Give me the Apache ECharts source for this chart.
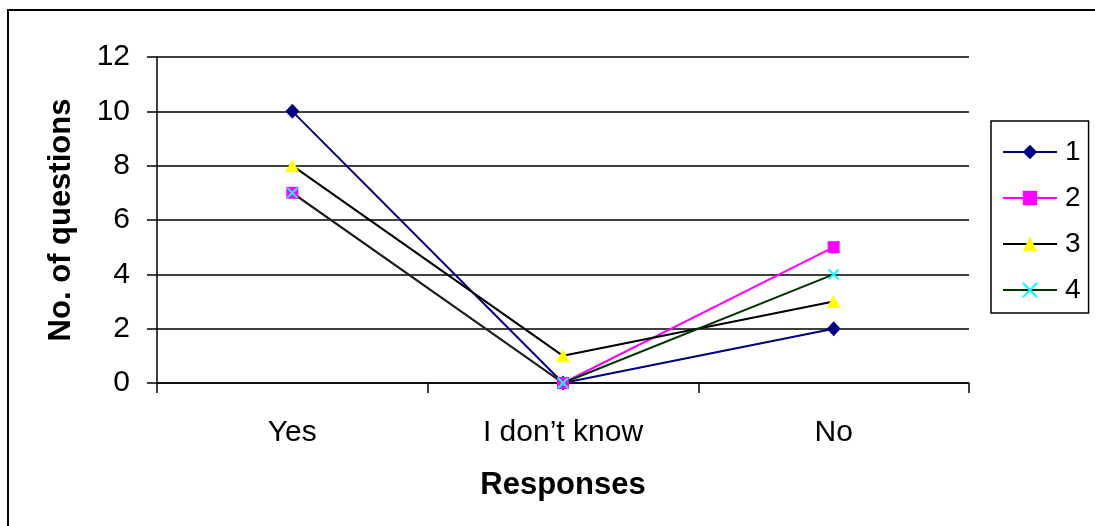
<!DOCTYPE html>
<html>
<head>
<meta charset="utf-8">
<script src="https://cdn.jsdelivr.net/npm/echarts@6/dist/echarts.min.js"></script>
<style>
html, body { margin: 0; padding: 0; background: #fff; }
#chart { width: 1095px; height: 526px; }
</style>
</head>
<body>
<div id="chart"></div>
<script>
// Survey responses per question group
const categories = ['Yes', 'I don\u2019t know', 'No'];
const series1 = [10, 0, 2];
const series2 = [7, 0, 5];
const series3 = [8, 1, 3];
const series4 = [7, 0, 4];
const seriesNames = ['1', '2', '3', '4'];
const yTicks = { min: 0, max: 12, interval: 2 };

const FONT = '"Liberation Sans", Arial, sans-serif';
const crossPath = 'path://M0,0L10,10M10,0L0,10';

const chart = echarts.init(document.getElementById('chart'), null, { renderer: 'canvas' });

function lineSeries(name, data, lineColor, markColor, symbol, size, extra) {
  return Object.assign({
    name: name,
    type: 'line',
    data: data,
    symbol: symbol,
    symbolSize: size,
    showAllSymbol: true,
    lineStyle: { color: lineColor, width: 2 },
    itemStyle: { color: markColor, borderWidth: 0 },
    emphasis: { disabled: true },
    animation: false
  }, extra || {});
}

chart.setOption({
  backgroundColor: '#fff',
  textStyle: { fontFamily: FONT },
  graphic: [{
    type: 'rect',
    shape: { x: 8, y: 10, width: 1200, height: 600 },
    style: { fill: 'none', stroke: '#000', lineWidth: 2 },
    silent: true,
    z: 0
  }],
  grid: { left: 157, top: 57, right: 126, bottom: 143, containLabel: false },
  legend: {
    orient: 'vertical',
    left: 991,
    top: 121,
    padding: [17, 8, 9, 11],
    itemGap: 18,
    itemWidth: 54,
    itemHeight: 18,
    borderColor: '#000',
    borderWidth: 1.5,
    backgroundColor: '#fff',
    textStyle: { fontFamily: FONT, fontSize: 28, color: '#000', lineHeight: 28, padding: [0, 0, 0, 3] },
    data: seriesNames
  },
  xAxis: {
    type: 'category',
    data: categories,
    boundaryGap: true,
    name: 'Responses',
    nameLocation: 'middle',
    nameGap: 87,
    nameTextStyle: { fontFamily: FONT, fontSize: 31, fontWeight: 'bold', color: '#000' },
    axisLine: { lineStyle: { color: '#000', width: 1.5 } },
    axisTick: { show: true, alignWithLabel: false, length: 10, lineStyle: { color: '#000', width: 1.5 } },
    axisLabel: { fontFamily: FONT, fontSize: 30, color: '#000', margin: 35 },
    splitLine: { show: false }
  },
  yAxis: {
    type: 'value',
    min: yTicks.min,
    max: yTicks.max,
    interval: yTicks.interval,
    name: 'No. of questions',
    nameLocation: 'middle',
    nameGap: 80,
    nameRotate: 90,
    nameTextStyle: { fontFamily: FONT, fontSize: 31, fontWeight: 'bold', color: '#000' },
    axisLine: { show: true, lineStyle: { color: '#000', width: 1.5 } },
    axisTick: { show: true, length: 10, lineStyle: { color: '#000', width: 1.5 } },
    axisLabel: { fontFamily: FONT, fontSize: 30, color: '#000', margin: 27 },
    splitLine: { show: true, lineStyle: { color: '#000', width: 1.5 } }
  },
  series: [
    lineSeries(seriesNames[0], series1, '#000080', '#000080', 'diamond', [14, 15]),
    lineSeries(seriesNames[1], series2, '#FF00FF', '#FF00FF', 'rect', [12, 12]),
    lineSeries(seriesNames[2], series3, '#000000', '#FFFF00', 'triangle', [14, 13]),
    lineSeries(seriesNames[3], series4, '#003300', '#00FFFF', crossPath, [10, 10], {
      itemStyle: { color: 'none', borderColor: '#00FFFF', borderWidth: 2 }
    })
  ]
});
</script>
</body>
</html>
